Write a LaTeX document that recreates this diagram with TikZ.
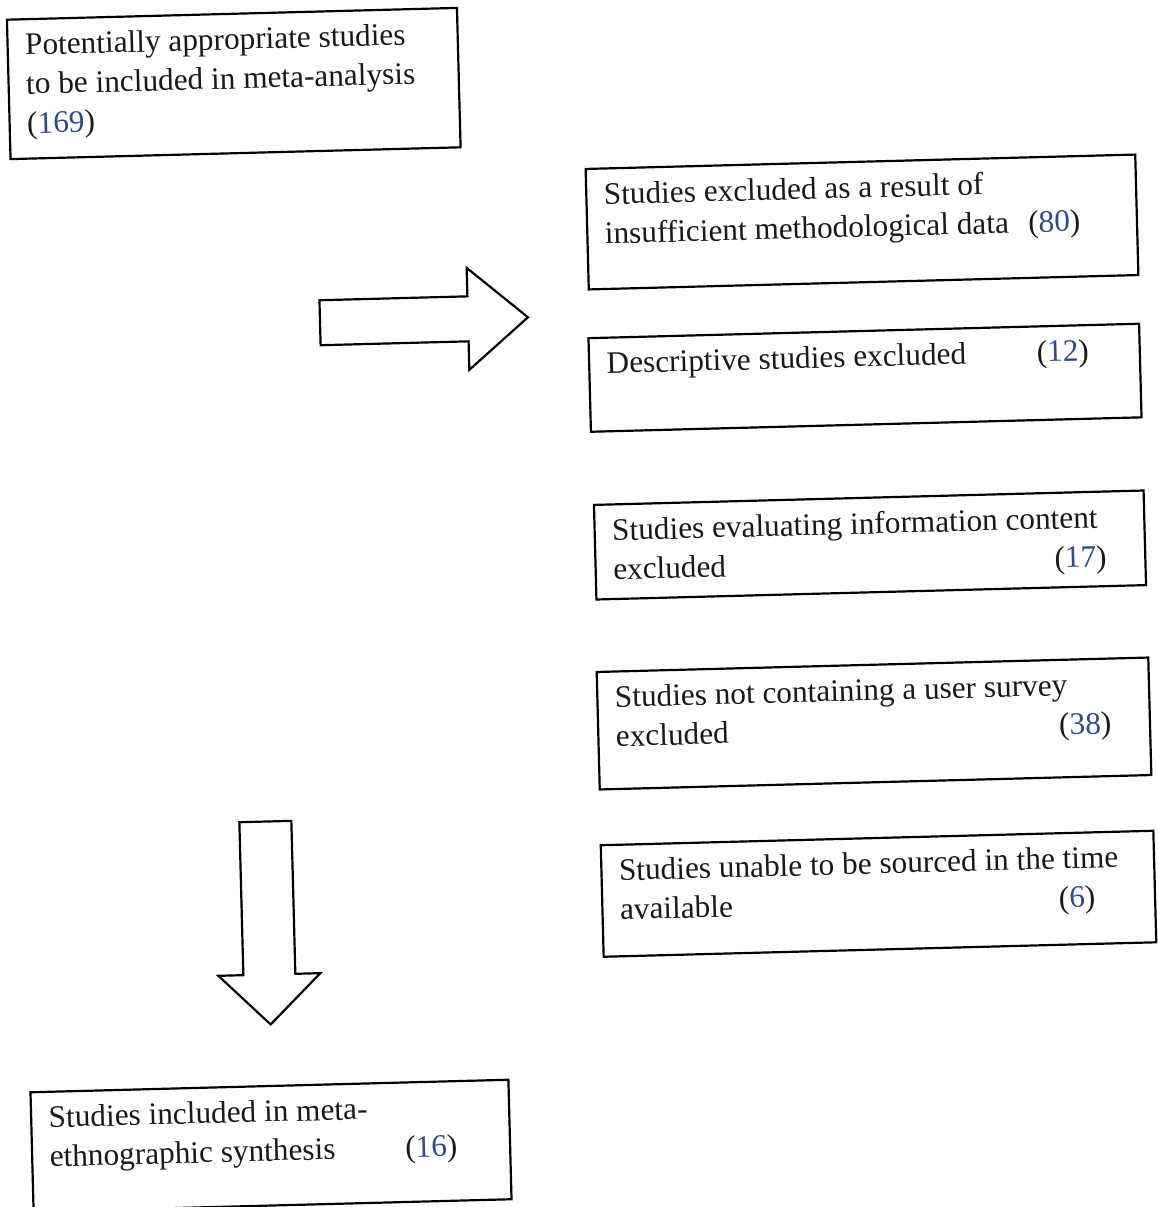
\documentclass[tikz,border=0pt]{standalone}
\usepackage{fontspec}
\setmainfont{Liberation Serif}
\definecolor{numblue}{RGB}{44,74,140}
% fixed-size, top-aligned text block for a box: width px, height px, text
\newcommand{\flowcell}[3]{\parbox[c][\dimexpr 0.5669pt*#2-16pt\relax][t]{\dimexpr 0.5669pt*#1-20pt\relax}{\raggedright #3}}
% study count, digits in blue
\newcommand{\cnt}[1]{(\textcolor{numblue}{#1})}
\begin{document}
\begin{tikzpicture}[x=0.02cm, y=0.02cm,
  box/.style={draw, line width=1.25pt, rectangle, inner xsep=10pt, inner ysep=8pt,
    rotate=1.5, font=\fontsize{17.8}{22.3}\selectfont, text=black!90},
  blockarrow/.style={draw, line width=1.25pt, line join=miter, fill=white}]
\useasboundingbox (0,0) rectangle (1157,-1207);
\fill[white] (0,0) rectangle (1157,-1207);

\node[box] (pool) at (233.75,-83.5)
  {\flowcell{452}{140}{Potentially appropriate studies\\ to be included in meta-analysis\\ \cnt{169}}};

\node[box] (ex1) at (862,-222)
  {\flowcell{552}{121}{Studies excluded as a result of\\ insufficient methodological data\hspace{11pt}\cnt{80}}};

\node[box] (ex2) at (865,-377.75)
  {\flowcell{553}{94}{Descriptive studies excluded\hfill\cnt{12}\hspace*{19pt}}};

\node[box] (ex3) at (870,-545)
  {\flowcell{552}{95}{Studies evaluating information content\\ excluded\hfill\cnt{17}\hspace*{12pt}}};

\node[box] (ex4) at (874,-723.5)
  {\flowcell{554}{118}{Studies not containing a user survey\\ excluded\hfill\cnt{38}\hspace*{12pt}}};

\node[box] (ex5) at (878.5,-893.75)
  {\flowcell{555}{112}{Studies unable to be sourced in the time\\ available\hfill\cnt{6}\hspace*{24pt}}};

\node[box] (incl) at (271,-1145.75)
  {\flowcell{480}{120}{Studies included in meta-\\ ethnographic synthesis\hfill\cnt{16}\hspace*{20pt}}};

% block arrow pointing to the exclusions
\draw[blockarrow, shift={(424,-320)}, rotate=1.5]
  (-104,22.5) -- (44,22.5) -- (44,51) -- (104,0) -- (44,-51) -- (44,-22.5) -- (-104,-22.5) -- cycle;

% block arrow pointing to the included studies
\draw[blockarrow, shift={(268,-923)}, rotate=1.5]
  (-26,101.5) -- (26,101.5) -- (26,-51.5) -- (51,-51.5) -- (0,-101.5) -- (-51,-51.5) -- (-26,-51.5) -- cycle;
\end{tikzpicture}
\end{document}
